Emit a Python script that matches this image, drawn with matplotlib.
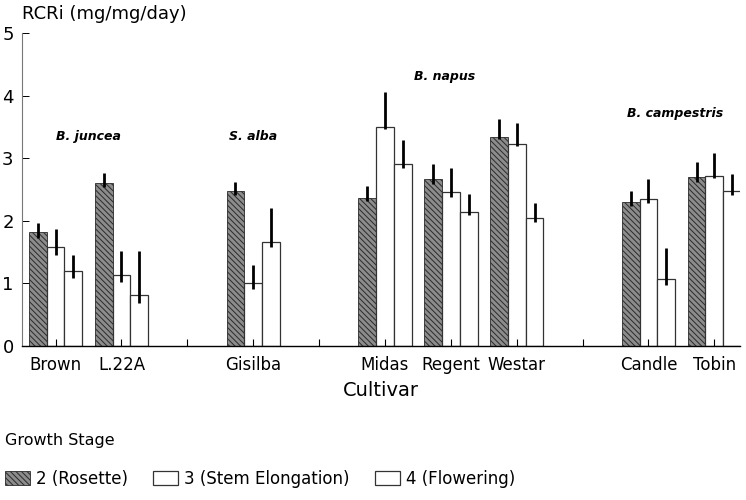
import matplotlib.pyplot as plt
import numpy as np

plt.rcParams['font.family'] = ['DejaVu Sans']
plt.rcParams['hatch.linewidth'] = 0.7

# cultivars and their slot on the x axis (empty slots separate species)
cultivars = ["Brown", "L.22A", "Gisilba", "Midas", "Regent", "Westar", "Candle", "Tobin"]
slots = [0, 1, 3, 5, 6, 7, 9, 10]
empty_slots = [2, 4, 8]

# RCRi values per growth stage
rosette = [1.82, 2.60, 2.48, 2.36, 2.67, 3.34, 2.30, 2.70]
stem = [1.58, 1.13, 1.00, 3.50, 2.46, 3.23, 2.35, 2.72]
flower = [1.20, 0.82, 1.66, 2.90, 2.14, 2.04, 1.07, 2.48]

# error bars (below, above)
rosette_lo = [0.09, 0.06, 0.07, 0.05, 0.08, 0.04, 0.06, 0.08]
rosette_hi = [0.15, 0.16, 0.14, 0.20, 0.24, 0.28, 0.18, 0.24]
stem_lo = [0.13, 0.11, 0.09, 0.03, 0.08, 0.03, 0.07, 0.04]
stem_hi = [0.29, 0.39, 0.29, 0.56, 0.38, 0.33, 0.32, 0.36]
flower_lo = [0.12, 0.13, 0.08, 0.05, 0.05, 0.06, 0.10, 0.07]
flower_hi = [0.25, 0.70, 0.54, 0.39, 0.29, 0.24, 0.50, 0.27]

species = ["B. juncea", "S. alba", "B. napus", "B. campestris"]
species_x = [0.5, 3.0, 5.9, 9.4]
species_y = [3.35, 3.35, 4.31, 3.72]

stage_labels = ["2 (Rosette)", "3 (Stem Elongation)", "4 (Flowering)"]

fig = plt.figure(figsize=(7.46, 5.0), dpi=100)
ax = fig.add_axes([0.0295, 0.308, 0.9625, 0.626])

x = np.array(slots, dtype=float)
w = 0.27
bars = []
for k, (vals, lo, hi) in enumerate([(rosette, rosette_lo, rosette_hi),
                                   (stem, stem_lo, stem_hi),
                                   (flower, flower_lo, flower_hi)]):
    pos = x + (k - 1) * w
    if k == 0:
        b = ax.bar(pos, vals, w, color='#8c8c8c', edgecolor='#2a2a2a',
                   hatch='\\\\\\\\\\\\', linewidth=0.6)
    else:
        b = ax.bar(pos, vals, w, color='white', edgecolor='#333333', linewidth=0.9)
    bars.append(b)
    ax.errorbar(pos, vals, yerr=[lo, hi], fmt='none', ecolor='black',
                elinewidth=2.0, capsize=0)

for s, sx, sy in zip(species, species_x, species_y):
    ax.text(sx, sy, s, ha='center', va='center', fontsize=9,
            style='italic', fontweight='bold')

ax.set_xlim(-0.51, 10.39)
ax.set_ylim(0, 5)
ax.set_yticks([0, 1, 2, 3, 4, 5])
ax.tick_params(axis='y', direction='in', length=5, width=0.7, labelsize=13, pad=6)
ticks = sorted(slots + empty_slots)
ax.set_xticks(ticks)
ax.set_xticklabels([cultivars[slots.index(t)] if t in slots else "" for t in ticks])
ax.tick_params(axis='x', direction='in', length=5, width=0.8, labelsize=12, pad=7)
ax.spines['top'].set_visible(False)
ax.spines['right'].set_visible(False)
ax.spines['left'].set_color('#777777')
ax.spines['left'].set_linewidth(0.8)
ax.spines['bottom'].set_linewidth(1.0)

ax.set_xlabel("Cultivar", fontsize=14, labelpad=5)
fig.text(0.029, 0.972, "RCRi (mg/mg/day)", fontsize=13, ha='left', va='center')

fig.text(0.007, 0.12, "Growth Stage", fontsize=11.5, ha='left', va='center')
leg = fig.legend(bars, stage_labels, loc='lower left', bbox_to_anchor=(0.0, 0.015),
                 ncol=3, frameon=False, fontsize=12, handlelength=1.5,
                 handleheight=0.9, handletextpad=0.36, columnspacing=1.5,
                 borderaxespad=0.0, borderpad=0.3)

fig.savefig("out.png", dpi=100)
